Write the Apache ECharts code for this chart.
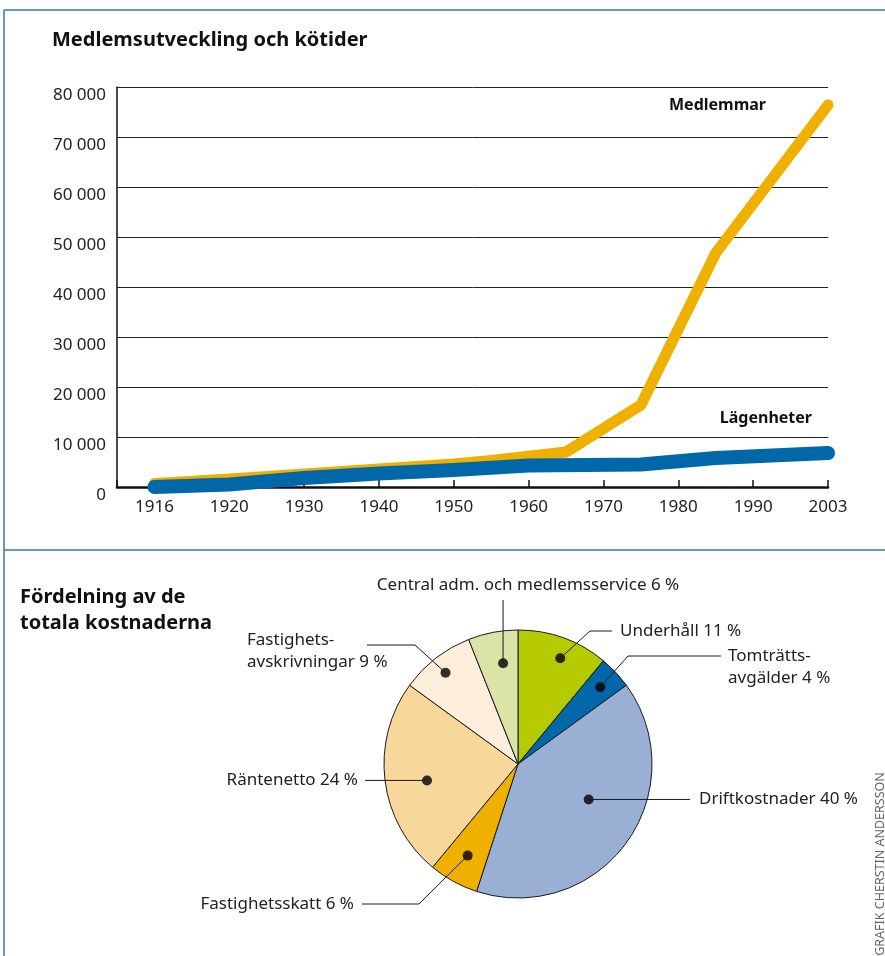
<!DOCTYPE html>
<html><head><meta charset="utf-8">
<script src="https://cdn.jsdelivr.net/npm/echarts@6/dist/echarts.min.js"></script>
<style>html,body{margin:0;padding:0;background:#fff}#c{width:885px;height:956px}</style>
</head><body><div id="c"></div>
<script>
// ---------- data ----------
const years = ['', '1916','1918','1920','1925','1930','1935','1940','1945','1950','1955','1960','1965','1970','1975','1980','1985','1990','1996','2003'];
const medlemmar  = [null, 700, null, 1600, null, 2600, null, 3600, null, 4600, 5300, null, 7000, null, 16400, null, 46800, null, null, 76400];
const lagenheter = [null, 0, null, 500, null, 1800, null, 2700, null, 3400, null, 4300, null, null, 4500, null, 5800, null, null, 6800];
const yMin = 0, yMax = 80000, yStep = 10000;

const costNames  = ['Underhåll', 'Tomträtts-\navgälder', 'Driftkostnader', 'Fastighetsskatt', 'Räntenetto', 'Fastighets-\navskrivningar', 'Central adm. och medlemsservice'];
const costValues = [11, 4, 40, 6, 24, 9, 6];

// ---------- styles / layout ----------
const FONT = '"Noto Sans", "DejaVu Sans", sans-serif';
const costColors = ['#b5cb00', '#0068a8', '#9aafd4', '#f0b000', '#f8d79b', '#fdefdb', '#dbe4a6'];
const PIE_C = [518, 764], PIE_R = 134;
// [fraction along slice, radius ratio] for the black dots
const dotPos = [[0.55, 0.85], [0.51, 0.84], [0.435, 0.59], [0.5, 0.78], [0.465, 0.69], [0.48, 0.87], [0.61, 0.76]];
const total = costValues.reduce((a, b) => a + b, 0);
function dotAngle(i) { let c = 0; for (let j = 0; j < i; j++) c += costValues[j]; return (c + dotPos[i][0] * costValues[i]) / total * 100; }
function dotPixel(i) {
  const a = dotAngle(i) / 100 * 2 * Math.PI, r = dotPos[i][1] * PIE_R;
  return [PIE_C[0] + r * Math.sin(a), PIE_C[1] - r * Math.cos(a)];
}
function labelPlace(i) {
  const d = dotPixel(i);
  switch (i) {
    case 0: return { x: 620, y: 631, align: 'left', verticalAlign: 'middle', pts: [d, [590, 631], [612, 631]] };
    case 1: return { x: 728, y: 645, align: 'left', verticalAlign: 'top', pts: [d, [628, 656], [721, 656]] };
    case 2: return { x: 699, y: d[1], align: 'left', verticalAlign: 'middle', pts: [d, [690, d[1]]] };
    case 3: return { x: 354, y: 904, align: 'right', verticalAlign: 'middle', pts: [d, [419, 904], [362, 904]] };
    case 4: return { x: 358, y: d[1], align: 'right', verticalAlign: 'middle', pts: [d, [365, d[1]]] };
    case 5: return { x: 247, y: 629, align: 'left', verticalAlign: 'top', pts: [d, [415, 645], [367, 645]] };
    default: return { x: 528, y: 585, align: 'center', verticalAlign: 'middle', pts: [d, [d[0], 600]] };
  }
}

const chart = echarts.init(document.getElementById('c'), null, { renderer: 'canvas' });
const FRAME = '#2f78b8';
const pieData = costNames.map((n, i) => ({ name: n, value: costValues[i], itemStyle: { color: costColors[i] } }));
const leaderLines = costValues.map((v, i) => ({
  type: 'polyline', z: 100, silent: true,
  shape: { points: labelPlace(i).pts },
  style: { stroke: '#1a1a1a', lineWidth: 1, fill: null }
}));
chart.setOption({
  animation: false,
  backgroundColor: '#fff',
  title: [
    { text: 'Medlemsutveckling och kötider', left: 47, top: 22,
      textStyle: { fontFamily: FONT, fontSize: 20, fontWeight: 'bold', color: '#111', lineHeight: 26 } },
    { text: 'Fördelning av de\ntotala kostnaderna', left: 15, top: 579,
      textStyle: { fontFamily: FONT, fontSize: 20, fontWeight: 'bold', color: '#111', lineHeight: 26 } }
  ],
  grid: { left: 117, top: 87, width: 711, height: 400, containLabel: false },
  xAxis: {
    type: 'category', data: years, boundaryGap: false,
    axisLine: { lineStyle: { color: '#111', width: 2.5 } },
    axisTick: { show: true, inside: true, length: 7, lineStyle: { color: '#111', width: 1.5 },
      interval: (i) => i % 2 === 1 || i === 0 },
    axisLabel: { interval: (i) => i % 2 === 1, margin: 12, fontFamily: FONT, fontSize: 17, color: '#222' },
    splitLine: { show: false }
  },
  yAxis: {
    type: 'value', min: yMin, max: yMax, interval: yStep,
    axisLine: { show: true, lineStyle: { color: '#111', width: 1.5 } },
    axisTick: { show: false },
    splitLine: { show: true, lineStyle: { color: '#222', width: 1 } },
    axisLabel: { margin: 11, fontFamily: FONT, fontSize: 17, color: '#222', verticalAlign: 'top',
      formatter: (v) => String(v).replace(/\B(?=(\d{3})+(?!\d))/g, ' ') }
  },
  polar: { center: PIE_C, radius: PIE_R },
  angleAxis: { type: 'value', min: 0, max: 100, startAngle: 90, clockwise: true, show: false },
  radiusAxis: { type: 'value', min: 0, max: 1, show: false },
  series: [
    { name: 'Medlemmar', type: 'line', data: medlemmar, connectNulls: true, symbol: 'none',
      lineStyle: { color: '#f0b000', width: 11, cap: 'round', join: 'round' }, z: 3 },
    { name: 'Lägenheter', type: 'line', data: lagenheter, connectNulls: true, symbol: 'none',
      lineStyle: { color: '#0068a8', width: 14, cap: 'round', join: 'round' }, z: 4 },
    { name: 'Kostnader', type: 'pie', center: PIE_C, radius: PIE_R, startAngle: 90, clockwise: true,
      avoidLabelOverlap: false, silent: true, z: 2, data: pieData,
      itemStyle: { borderColor: '#1a1a1a', borderWidth: 1 },
      label: { show: true, position: 'outside', fontFamily: FONT, fontSize: 17, color: '#222', lineHeight: 22,
        formatter: (p) => p.name + ' ' + p.value + ' %' },
      labelLine: { show: false },
      labelLayout: (params) => {
        const L = labelPlace(params.dataIndex);
        return { x: L.x, y: L.y, align: L.align, verticalAlign: L.verticalAlign };
      }
    },
    { name: 'dots', type: 'scatter', coordinateSystem: 'polar', silent: true, z: 6,
      symbol: 'circle', symbolSize: 10, itemStyle: { color: '#000' },
      data: costValues.map((v, i) => [dotPos[i][1], dotAngle(i)]) }
  ],
  graphic: [
    { type: 'line', shape: { x1: 4, y1: 10, x2: 885, y2: 10 }, style: { stroke: FRAME, lineWidth: 1.5 } },
    { type: 'line', shape: { x1: 4, y1: 10, x2: 4, y2: 956 }, style: { stroke: FRAME, lineWidth: 1.5 } },
    { type: 'line', shape: { x1: 4, y1: 550, x2: 885, y2: 550 }, style: { stroke: FRAME, lineWidth: 1.5 } },
    { type: 'text', x: 766, y: 105, style: { text: 'Medlemmar', font: 'bold 16px ' + FONT, fill: '#111', align: 'right', verticalAlign: 'middle' } },
    { type: 'text', x: 812, y: 418, style: { text: 'Lägenheter', font: 'bold 16px ' + FONT, fill: '#111', align: 'right', verticalAlign: 'middle' } },
    { type: 'text', x: 880, y: 864, rotation: Math.PI / 2, style: { text: 'GRAFIK CHERSTIN ANDERSSON', font: '12.5px ' + FONT, fill: '#666', align: 'center', verticalAlign: 'middle' } }
  ].concat(leaderLines)
});
</script>
</body></html>
